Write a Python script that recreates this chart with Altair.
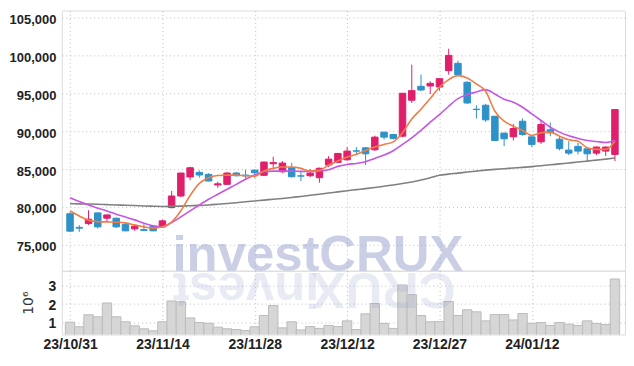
import altair as alt
import pandas as pd

dates = ["23/10/31","23/11/01","23/11/02","23/11/03","23/11/06","23/11/07","23/11/08","23/11/09","23/11/10","23/11/13",
         "23/11/14","23/11/15","23/11/16","23/11/17","23/11/20","23/11/21","23/11/22","23/11/23","23/11/24","23/11/27",
         "23/11/28","23/11/29","23/11/30","23/12/01","23/12/04","23/12/05","23/12/06","23/12/07","23/12/08","23/12/11",
         "23/12/12","23/12/13","23/12/14","23/12/15","23/12/18","23/12/19","23/12/20","23/12/21","23/12/22","23/12/26",
         "23/12/27","23/12/28","24/01/02","24/01/03","24/01/04","24/01/05","24/01/08","24/01/09","24/01/10","24/01/11",
         "24/01/12","24/01/15","24/01/16","24/01/17","24/01/18","24/01/19","24/01/22","24/01/23","24/01/24","24/01/25"]

open_ = [79100,77300,77800,79210,78510,78510,77720,77100,77000,77460,
         77370,79910,81440,83950,84560,84300,82900,82980,84470,84200,
         84860,84170,85700,84640,85170,84100,84120,83860,85530,85880,
         86220,87400,87800,87540,89870,89560,89340,94080,95920,95960,
         95830,97990,98950,96450,92900,93420,91970,89740,89250,91310,
         89250,88590,90180,88940,87500,87990,87670,87100,87370,86930]
high = [79300,77600,79560,79300,79000,78600,77800,77600,77720,77500,
        78330,82100,84500,85300,84820,84450,83330,84600,84600,84900,
        84900,86000,86620,86050,85830,84640,85000,85200,86710,87100,
        87900,87900,87900,89400,89900,89600,95000,98780,97460,96580,
        97000,100880,99300,96600,93420,93600,92000,89800,90960,91670,
        89300,91310,91140,89340,88680,88460,87700,88000,88000,92900]
low = [76700,76700,77630,77140,78060,77200,76800,76840,76840,76800,
       77300,79800,81300,83520,83860,83400,82540,82900,84000,83700,
       83770,84100,85170,84500,83860,83420,83950,83200,85260,85800,
       86100,86930,85530,87400,88900,88900,89200,93720,95300,94910,
       95350,97460,97400,93600,91670,91230,88700,88020,88770,89400,
       87900,88330,89340,87460,86840,86930,85960,86840,86710,86050]
close = [76800,77200,78380,77370,78940,77370,76840,77460,76900,76840,
         78160,81440,84470,85170,84210,83420,83050,84470,84120,84100,
         84510,85920,85850,85790,83990,84070,84470,85100,86310,87060,
         87370,87370,87010,89210,89210,89040,95000,95350,95430,96310,
         96930,100000,97460,93720,92850,91490,88770,88990,90350,89560,
         88250,90880,89780,87720,87100,87370,87010,87900,87900,92850]

ma_short = [79470,78810,78250,78060,78020,77980,77890,77630,77370,77190,
            77370,78000,79500,81500,83100,83850,84150,84200,84200,84120,
            84070,84730,85090,85260,85260,85090,84730,84820,85530,86050,
            86580,86930,87460,87900,88250,88590,89800,91600,92900,94300,
            95800,96800,97330,97020,96230,95260,92630,91310,90660,90090,
            89430,89780,89870,89340,88860,88680,87800,87590,87590,88680]
ma_mid = [81220,80700,80260,79830,79470,79040,78680,78290,77850,77500,
          77370,77930,78680,79470,80260,81010,81670,82330,82980,83660,
          84210,84640,84730,84730,84730,84690,84690,84730,84900,85350,
          85610,85740,85960,86400,86840,87420,88250,89120,90090,91200,
          92190,93290,94300,94830,95170,95480,94910,94210,93810,93160,
          92280,91410,90520,89870,89380,89040,88770,88640,88510,88810]
ma_long = [80430,80400,80380,80350,80300,80260,80220,80180,80130,80090,
           80060,80080,80110,80160,80200,80260,80350,80450,80560,80680,
           80790,80900,81010,81120,81250,81380,81530,81680,81830,81990,
           82140,82280,82420,82570,82730,82890,83080,83300,83550,83840,
           84170,84330,84460,84600,84730,84860,84950,85040,85130,85220,
           85320,85440,85560,85680,85800,85920,86050,86180,86310,86450]
volume = [1.02,0.77,1.42,1.31,2.06,1.31,1.04,0.82,0.66,0.55,
          1.04,2.17,2.12,1.25,1.00,0.96,0.75,0.66,0.62,0.57,
          0.77,1.38,1.92,0.71,1.04,0.60,0.78,0.68,0.84,0.78,
          1.09,0.62,1.47,2.03,0.95,0.68,3.04,2.51,1.38,1.04,
          1.05,2.14,1.38,1.69,1.58,1.09,1.43,1.43,1.14,1.49,
          0.96,1.00,0.84,1.00,0.91,0.84,1.09,0.95,0.89,3.36]

price_ticks = [75000, 80000, 85000, 90000, 95000, 100000, 105000]
vol_ticks = [1, 2, 3]
date_ticks = [0, 10, 20, 30, 40, 50]
watermark = ["investCRUX"]

UP = "#e01f6b"
DOWN = "#2e92c8"
FONT = "Liberation Sans"
LABEL_COLOR = "#222222"
GRID = "#b8bed6"
WM_COLOR = "#8c96c8"

df = pd.DataFrame({
    "i": list(range(len(dates))), "date": dates,
    "open": open_, "high": high, "low": low, "close": close,
    "ma_s": ma_short, "ma_m": ma_mid, "ma_l": ma_long, "vol": volume,
})
df["dir"] = ["up" if c >= o else "down" for o, c in zip(open_, close)]

W = 565
H_PRICE = 261
H_VOL = 64
xscale = alt.Scale(domain=[-0.35, 59.55], nice=False, zero=False)
yscale = alt.Scale(domain=[71580, 105920], nice=False, zero=False)
vscale = alt.Scale(domain=[0.35, 3.81], nice=False, zero=False)
dir_scale = alt.Scale(domain=["up", "down"], range=[UP, DOWN])

label_expr = "[" + ",".join("'%s'" % d for d in dates) + "][datum.value]"

x_price = alt.X("i:Q", scale=xscale, axis=alt.Axis(
    values=date_ticks, labels=False, ticks=False, domain=False, grid=True,
    gridDash=[1, 3], gridColor=GRID, gridWidth=1, title=None))
y_price = alt.Y("low:Q", scale=yscale, axis=alt.Axis(
    values=price_ticks, format=",d", ticks=False, domain=False, grid=True,
    gridDash=[1, 3], gridColor=GRID, labelFont=FONT, labelFontSize=13,
    labelFontWeight="bold", labelColor=LABEL_COLOR, labelPadding=6,
    labelOffset=2, title=None))

base = alt.Chart(df)

wick = base.mark_rule(strokeWidth=1).encode(
    x=x_price, y=y_price, y2="high:Q",
    color=alt.Color("dir:N", scale=dir_scale, legend=None))
body = base.mark_bar(width=6.5, strokeWidth=1).encode(
    x="i:Q", y="open:Q", y2="close:Q",
    color=alt.Color("dir:N", scale=dir_scale, legend=None),
    stroke=alt.Stroke("dir:N", scale=dir_scale, legend=None))
line_l = base.mark_line(color="#808080", strokeWidth=1.6, interpolate="monotone").encode(x="i:Q", y="ma_l:Q")
line_m = base.mark_line(color="#c655e4", strokeWidth=1.6, interpolate="monotone").encode(x="i:Q", y="ma_m:Q")
line_s = base.mark_line(color="#f07d45", strokeWidth=1.6, interpolate="monotone").encode(x="i:Q", y="ma_s:Q")

wm_df = pd.DataFrame({"t": watermark})
wm = alt.Chart(wm_df).mark_text(
    font="Liberation Sans", fontSize=51, fontWeight="bold", align="left",
    baseline="alphabetic", color=WM_COLOR, opacity=0.45
).encode(x=alt.value(111), y=alt.value(H_PRICE), text="t:N")

price = alt.layer(wm, wick, body, line_l, line_m, line_s).properties(width=W, height=H_PRICE)

vol_bars = base.mark_bar(width=9.4, clip=True, fill="#d6d6d6", stroke="#bcbcbc", strokeWidth=1).encode(
    x=alt.X("i:Q", scale=xscale, axis=alt.Axis(
        values=date_ticks, labelExpr=label_expr, grid=True, gridDash=[1, 3],
        gridColor=GRID, ticks=False, domain=False, labelPadding=3, labelFlush=False,
        labelFont=FONT, labelFontSize=14, labelFontWeight="bold",
        labelColor=LABEL_COLOR, title=None)),
    y=alt.Y("vol:Q", scale=vscale, axis=alt.Axis(
        values=vol_ticks, ticks=False, domain=False, grid=True, gridDash=[1, 3],
        gridColor=GRID, labelFont=FONT, labelFontSize=14, labelFontWeight="bold",
        labelColor=LABEL_COLOR, labelPadding=6, labelOffset=1,
        title="10⁶", titleFont="DejaVu Sans", titleFontSize=14, titleFontWeight="normal",
        titleColor="#333333", titlePadding=13)),
    y2=alt.datum(0))

refl_left = alt.Chart(pd.DataFrame({"t": ["invest"]})).mark_text(
    font="Liberation Sans", fontSize=51, fontWeight="bold", align="right", angle=180,
    baseline="alphabetic", color=WM_COLOR, opacity=0.18
).encode(x=alt.value(111), y=alt.value(2), text="t:N")
refl_right = alt.Chart(pd.DataFrame({"t": ["CRUX"]})).mark_text(
    font="Liberation Sans", fontSize=51, fontWeight="bold", align="left", angle=180,
    baseline="alphabetic", color=WM_COLOR, opacity=0.18
).encode(x=alt.value(395), y=alt.value(2), text="t:N")

vol = alt.layer(vol_bars, refl_left, refl_right).properties(width=W, height=H_VOL)

chart = alt.vconcat(price, vol, spacing=0, bounds="flush").properties(
    padding={"left": 0, "top": 1, "right": 0, "bottom": 0}
).configure_view(stroke="#cfcfcf").configure(background="white")

chart.save("out.html", embed_options={"renderer": "svg", "actions": False})
